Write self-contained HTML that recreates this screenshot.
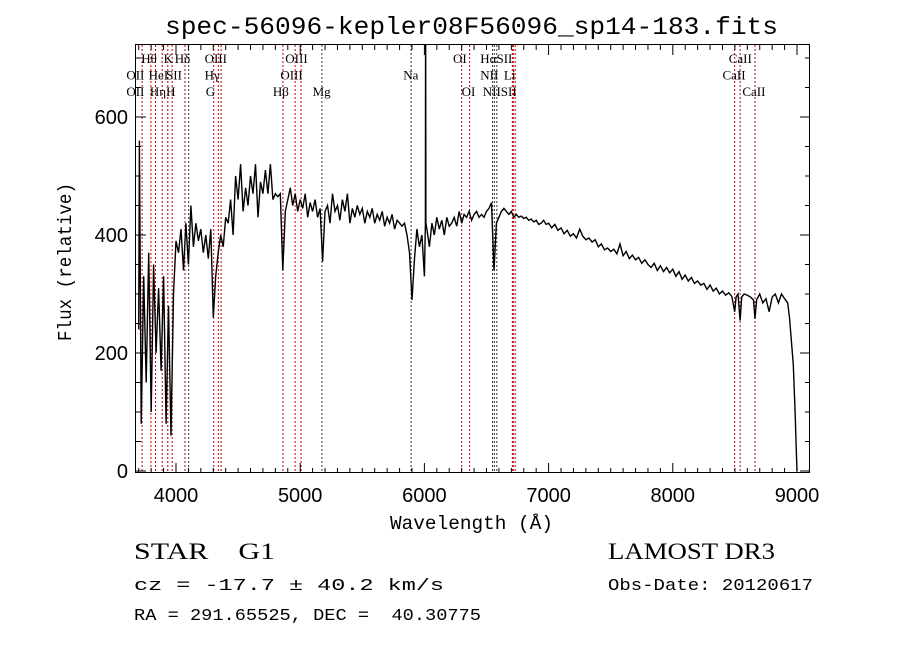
<!DOCTYPE html>
<html><head><meta charset="utf-8"><style>
body{margin:0;background:#fff;}
svg{display:block;font-family:"Liberation Sans",sans-serif;}
.ser{font-family:"Liberation Serif",serif;}
</style></head><body>
<svg id="chart" width="900" height="649" viewBox="0 0 900 649" xmlns="http://www.w3.org/2000/svg">
<rect width="900" height="649" fill="#fff"/>
<text x="165" y="34" font-size="25" textLength="613" lengthAdjust="spacingAndGlyphs" font-family="Liberation Mono, monospace">spec-56096-kepler08F56096_sp14-183.fits</text>
<defs><clipPath id="pc"><rect x="136" y="45" width="674" height="428"/></clipPath></defs>
<g id="lines"></g>
<g id="labels" class="ser" font-size="13"></g>
<g id="series" clip-path="url(#pc)"></g>
<rect x="135.5" y="44.5" width="674" height="428" fill="none" stroke="#000" stroke-width="1"/>
<g id="axes"></g>
<text x="390" y="529" textLength="163" lengthAdjust="spacingAndGlyphs" font-size="19" font-family="Liberation Mono, monospace">Wavelength (Å)</text>
<text transform="translate(71,341) rotate(-90)" textLength="158" lengthAdjust="spacingAndGlyphs" font-size="19" font-family="Liberation Mono, monospace">Flux (relative)</text>
<text class="ser" x="134" y="559" font-size="23" textLength="141" lengthAdjust="spacingAndGlyphs" xml:space="preserve">STAR    G1</text>
<text class="ser" x="608" y="559" font-size="23" textLength="167" lengthAdjust="spacingAndGlyphs">LAMOST DR3</text>
<text x="134" y="590" font-size="17" textLength="310" lengthAdjust="spacingAndGlyphs" font-family="Liberation Mono, monospace">cz = -17.7 ± 40.2 km/s</text>
<text x="608" y="590" font-size="17" textLength="205" lengthAdjust="spacingAndGlyphs" font-family="Liberation Mono, monospace">Obs-Date: 20120617</text>
<text x="134" y="620" font-size="17" textLength="347" lengthAdjust="spacingAndGlyphs" font-family="Liberation Mono, monospace" xml:space="preserve">RA = 291.65525, DEC =  40.30775</text>
</svg>
<script>
const wavelengths=[3700,3705,3720,3740,3760,3780,3800,3820,3840,3860,3880,3900,3920,3940,3960,3980,4000,4020,4040,4060,4080,4100,4120,4140,4160,4180,4200,4220,4240,4260,4280,4300,4320,4340,4360,4380,4400,4420,4440,4460,4480,4500,4520,4540,4560,4580,4600,4620,4640,4660,4680,4700,4720,4740,4760,4780,4800,4820,4840,4860,4880,4900,4920,4940,4960,4980,5000,5020,5040,5060,5080,5100,5120,5140,5160,5180,5200,5220,5240,5260,5280,5300,5320,5340,5360,5380,5400,5420,5440,5460,5480,5500,5520,5540,5560,5580,5600,5620,5640,5660,5680,5700,5720,5740,5760,5780,5800,5820,5840,5860,5880,5900,5920,5940,5960,5980,6000,6008,6010,6012,6020,6040,6060,6080,6100,6120,6140,6160,6180,6200,6220,6240,6260,6280,6300,6320,6340,6360,6380,6400,6420,6440,6460,6480,6500,6520,6540,6560,6570,6580,6600,6620,6640,6660,6680,6700,6720,6740,6760,6780,6800,6820,6840,6860,6880,6900,6920,6940,6960,6980,7000,7025,7050,7075,7100,7125,7150,7175,7200,7225,7250,7275,7300,7325,7350,7375,7400,7425,7450,7475,7500,7525,7550,7575,7600,7625,7650,7675,7700,7725,7750,7775,7800,7825,7850,7875,7900,7925,7950,7975,8000,8025,8050,8075,8100,8125,8150,8175,8200,8225,8250,8275,8300,8325,8350,8375,8400,8425,8450,8475,8498,8510,8525,8542,8555,8575,8600,8625,8650,8662,8675,8700,8725,8750,8775,8800,8825,8850,8875,8900,8925,8940,8955,8970,8985,8995,9000];
const flux=[240,560,80,330,150,370,100,350,200,310,170,330,80,280,60,300,390,370,410,340,420,350,450,380,420,390,410,370,400,360,410,260,330,370,400,380,430,420,460,400,500,460,520,440,480,450,500,470,520,430,490,470,510,470,520,460,470,465,470,340,440,460,480,450,470,440,460,445,470,430,455,440,460,430,445,355,440,450,420,470,440,450,425,460,440,470,420,445,430,450,435,445,420,440,430,445,420,435,425,440,415,430,420,435,410,425,420,415,420,400,370,290,360,410,380,400,330,420,800,420,410,380,420,400,430,410,425,400,430,415,420,430,415,440,420,435,430,440,425,435,440,430,435,430,440,445,455,340,380,420,430,440,445,440,435,440,430,435,430,432,428,430,425,427,422,425,418,420,425,418,420,412,418,408,412,402,408,398,402,395,410,398,392,395,388,392,380,385,375,378,372,376,368,385,365,372,360,366,358,362,352,358,350,345,352,340,348,338,345,336,342,330,338,325,332,322,328,318,322,315,318,308,315,305,310,300,305,298,302,296,270,295,300,255,295,300,298,295,290,258,290,300,285,292,270,295,300,285,300,292,285,260,220,180,100,30,0];
const yTicks=[0,200,400,600];
const xTicks=[4000,5000,6000,7000,8000,9000];
const lineWl=[3727,3798,3835,3889,3934,3969,4072,4102,4304,4341,4363,4861,4959,5007,5175,5893,6300,6364,6548,6563,6583,6708,6716,6731,8498,8542,8662];
const lineBlack=[5175,5893,4102,6548,6563,6583];
const labelText=["Hθ","K","Hδ","OIII","OIII","OI","HαSII","CaII","OII","HeI","SII","Hγ","OIII","Na","NII","Li","CaII","OII","Hη","H","G","Hβ","Mg","OI","NIISII","CaII"];
const labelRow=[0,0,0,0,0,0,0,0,1,1,1,1,1,1,1,1,1,2,2,2,2,2,2,2,2,2];
const labelWl=[3720,3900,3990,4230,4880,6230,6450,8450,3600,3780,3920,4230,4840,5830,6450,6640,8400,3600,3790,3920,4240,4780,5100,6300,6470,8560];
const NS="http://www.w3.org/2000/svg";
const X=l=>176+(l-4000)*0.1242, Y=f=>471-f*0.59;
function mk(tag,attrs,parent){const e=document.createElementNS(NS,tag);for(const k in attrs)e.setAttribute(k,attrs[k]);parent.appendChild(e);return e;}
const gl=document.getElementById('lines');
lineWl.forEach(w=>{const l=mk('line',{x1:X(w),x2:X(w),y1:45,y2:473,stroke:lineBlack.includes(w)?'#333':'#c00000','stroke-width':1,'stroke-dasharray':'2,2'},gl);

});
const glb=document.getElementById('labels');
labelText.forEach((t,i)=>{const e=mk('text',{x:X(labelWl[i]),y:63+labelRow[i]*16.5},glb);e.textContent=t;

});
const gs=document.getElementById('series');
const p=mk('polyline',{points:wavelengths.map((w,i)=>X(w).toFixed(1)+','+Y(flux[i]).toFixed(1)).join(' '),fill:'none',stroke:'#000','stroke-width':1.4,'stroke-linejoin':'miter'},gs);


const ga=document.getElementById('axes');
for(let v=0;v<=700;v+=50){const y=Y(v);if(y<45)break;const len=v%200===0?10:5;
mk('line',{x1:136,x2:136+len,y1:y,y2:y,stroke:'#000'},ga);mk('line',{x1:810,x2:810-len,y1:y,y2:y,stroke:'#000'},ga);}
yTicks.forEach(v=>{const t=mk('text',{x:128,y:Y(v)+7,'text-anchor':'end','font-size':20},ga);t.textContent=v;

});
for(let w=3700;w<=9100;w+=100){const x=X(w);const len=w%1000===0?10:5;
mk('line',{x1:x,x2:x,y1:473,y2:473-len,stroke:'#000'},ga);mk('line',{x1:x,x2:x,y1:45,y2:45+len,stroke:'#000'},ga);}
xTicks.forEach(v=>{const t=mk('text',{x:X(v),y:502,'text-anchor':'middle','font-size':20},ga);t.textContent=v;

});
</script>
</body></html>
